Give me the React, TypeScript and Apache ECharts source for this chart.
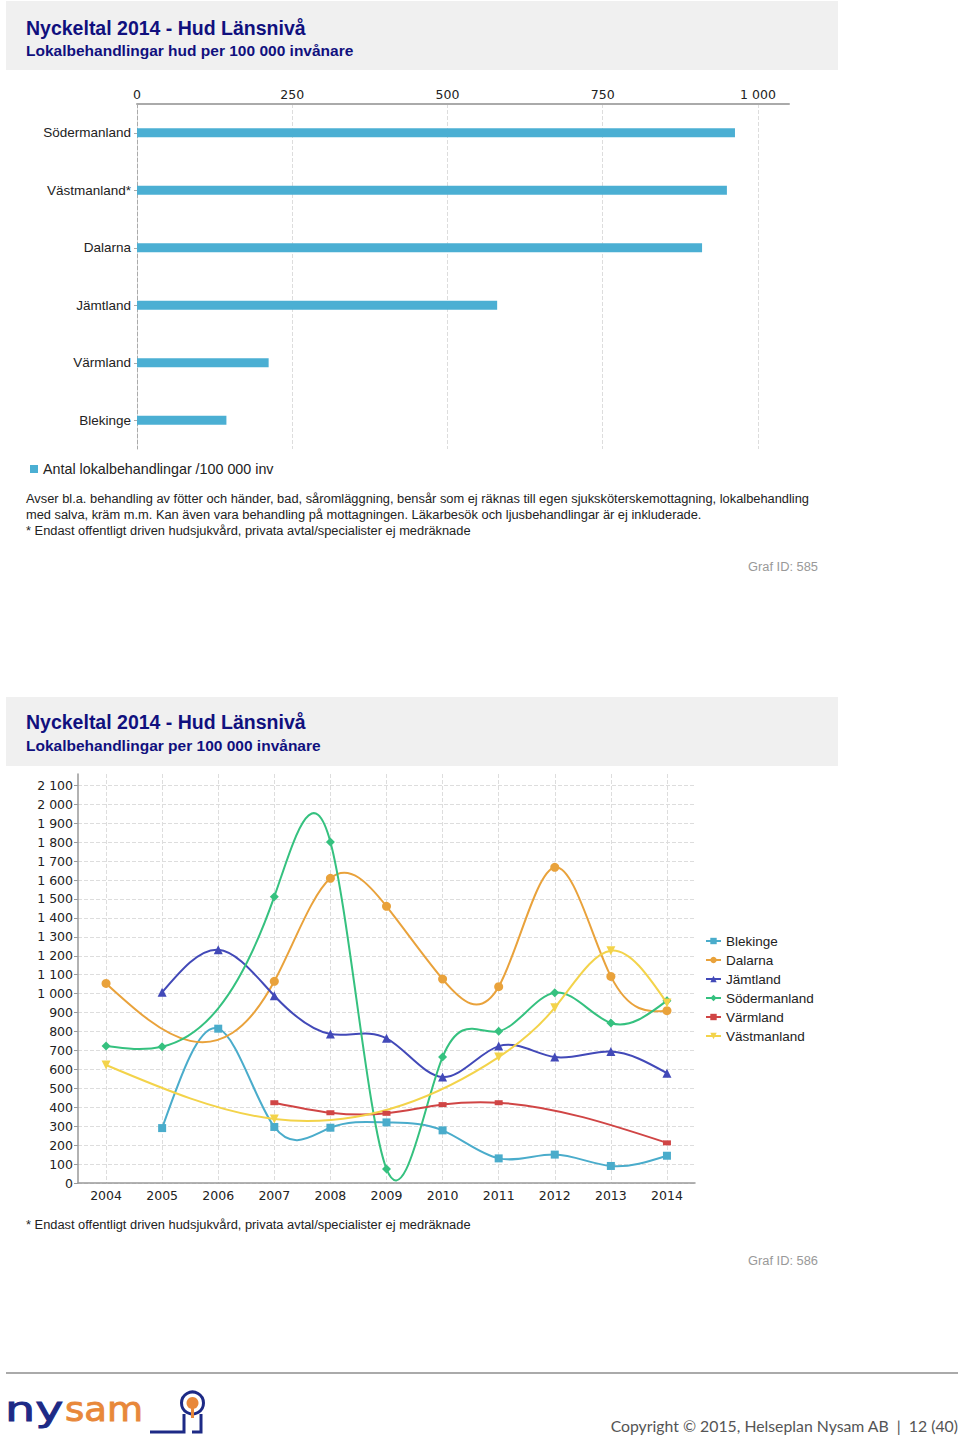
import React, { useEffect, useRef } from "react";
import * as echarts from "echarts";

const barCategories = ["Södermanland", "Västmanland*", "Dalarna", "Jämtland", "Värmland", "Blekinge"];
const barValues = [963, 950, 910, 580, 212, 144];
const barSeriesName = "Antal lokalbehandlingar /100 000 inv";

const years = ["2004", "2005", "2006", "2007", "2008", "2009", "2010", "2011", "2012", "2013", "2014"];
const blekinge = [null, 290, 815, 296, 292, 320, 278, 130, 150, 90, 144];
const dalarna = [1054, null, null, 1065, 1609, 1461, 1077, 1037, 1667, 1091, 910];
const jamtland = [null, 1007, 1232, 989, 787, 764, 560, 723, 665, 694, 580];
const sodermanland = [723, 720, null, 1512, 1801, 74, 665, 801, 1005, 845, 963];
const varmland = [null, null, null, 424, 371, 368, 414, 424, null, null, 212];
const vastmanland = [623, null, null, 338, null, null, null, 665, 926, 1227, 950];

const title1 = "Nyckeltal 2014 - Hud Länsnivå";
const subtitle1 = "Lokalbehandlingar hud per 100 000 invånare";
const subtitle2 = "Lokalbehandlingar per 100 000 invånare";
const notes1 = [
  "Avser bl.a. behandling av fötter och händer, bad, såromläggning, bensår som ej räknas till egen sjuksköterskemottagning, lokalbehandling",
  "med salva, kräm m.m. Kan även vara behandling på mottagningen. Läkarbesök och ljusbehandlingar är ej inkluderade.",
  "* Endast offentligt driven hudsjukvård, privata avtal/specialister ej medräknade",
];
const note2 = "* Endast offentligt driven hudsjukvård, privata avtal/specialister ej medräknade";
const copyright = "Copyright © 2015, Helseplan Nysam AB  |  12 (40)";

const fmt = (v: number) => String(v).replace(/\B(?=(\d{3})+(?!\d))/g, " ");

const SANS = "'Liberation Sans', Arial, sans-serif";
const NUM = "'DejaVu Sans', sans-serif";
const NAVY = "#10107e";

type Seg = { x0: number; y0: number; c1x: number; c1y: number; c2x: number; c2y: number; x1: number; y1: number };

// natural cubic spline through the non-null points, as cubic Bézier segments in data space
function splineSegments(data: (number | null)[]): Seg[] {
  const xs: number[] = [];
  const ys: number[] = [];
  data.forEach((v, i) => {
    if (v != null) {
      xs.push(i);
      ys.push(v);
    }
  });
  const n = xs.length;
  const M = new Array(n).fill(0);
  if (n > 2) {
    const a: number[] = [], b: number[] = [], c: number[] = [], d: number[] = [];
    for (let i = 1; i < n - 1; i++) {
      const h0 = xs[i] - xs[i - 1];
      const h1 = xs[i + 1] - xs[i];
      a.push(h0);
      b.push(2 * (h0 + h1));
      c.push(h1);
      d.push(6 * ((ys[i + 1] - ys[i]) / h1 - (ys[i] - ys[i - 1]) / h0));
    }
    const m = b.length;
    for (let i = 1; i < m; i++) {
      const w = a[i] / b[i - 1];
      b[i] -= w * c[i - 1];
      d[i] -= w * d[i - 1];
    }
    const sol = new Array(m);
    sol[m - 1] = d[m - 1] / b[m - 1];
    for (let i = m - 2; i >= 0; i--) sol[i] = (d[i] - c[i] * sol[i + 1]) / b[i];
    for (let i = 0; i < m; i++) M[i + 1] = sol[i];
  }
  const segs: Seg[] = [];
  for (let i = 0; i < n - 1; i++) {
    const h = xs[i + 1] - xs[i];
    const s = (ys[i + 1] - ys[i]) / h;
    const m0 = s - (h * (2 * M[i] + M[i + 1])) / 6;
    const m1 = s + (h * (M[i] + 2 * M[i + 1])) / 6;
    segs.push({
      x0: xs[i],
      y0: ys[i],
      c1x: xs[i] + h / 3,
      c1y: ys[i] + (h * m0) / 3,
      c2x: xs[i + 1] - h / 3,
      c2y: ys[i + 1] - (h * m1) / 3,
      x1: xs[i + 1],
      y1: ys[i + 1],
    });
  }
  return segs;
}

export default function App() {
  const ref = useRef<HTMLDivElement>(null);
  useEffect(() => {
    const chart = echarts.init(ref.current!, null, { renderer: "svg" });
    const lineSeries = [
      { name: "Blekinge", data: blekinge, color: "#4aaccb", symbol: "rect", symbolSize: 8, rot: 0 },
      { name: "Dalarna", data: dalarna, color: "#e9a23b", symbol: "circle", symbolSize: 9, rot: 0 },
      { name: "Jämtland", data: jamtland, color: "#4249b8", symbol: "triangle", symbolSize: 9, rot: 0 },
      { name: "Södermanland", data: sodermanland, color: "#35c17f", symbol: "diamond", symbolSize: 9, rot: 0 },
      { name: "Värmland", data: varmland, color: "#d04545", symbol: "rect", symbolSize: [8, 5], rot: 0 },
      { name: "Västmanland", data: vastmanland, color: "#f3d34a", symbol: "triangle", symbolSize: 9, rot: 180 },
    ];
    const titleText = (t: string, y: number, size: number) => ({
      type: "text",
      style: { text: t, x: 26, y, font: `bold ${size}px ${SANS}`, fill: NAVY, textVerticalAlign: "middle" },
    });
    const plain = (t: string, x: number, y: number, opts: any = {}) => ({
      type: "text",
      style: {
        text: t,
        x,
        y,
        font: opts.font || `12.85px ${SANS}`,
        fill: opts.fill || "#222",
        textAlign: opts.align || "left",
        textVerticalAlign: "middle",
      },
    });
    const curveSeries = lineSeries.map((s) => {
      const segs = splineSegments(s.data);
      return {
        name: s.name,
        type: "custom",
        coordinateSystem: "cartesian2d",
        xAxisIndex: 1,
        yAxisIndex: 1,
        z: 1,
        silent: true,
        clip: false,
        data: [[0, 0]],
        renderItem: (_params: any, api: any) => {
          const o = api.coord([0, 0]);
          const p1 = api.coord([1, 0]);
          const dx = p1[0] - o[0];
          const X = (x: number) => o[0] + x * dx;
          const Y = (v: number) => api.coord([0, v])[1];
          return {
            type: "group",
            children: segs.map((g) => ({
              type: "bezierCurve",
              shape: {
                x1: X(g.x0),
                y1: Y(g.y0),
                cpx1: X(g.c1x),
                cpy1: Y(g.c1y),
                cpx2: X(g.c2x),
                cpy2: Y(g.c2y),
                x2: X(g.x1),
                y2: Y(g.y1),
              },
              style: { stroke: s.color, lineWidth: 2, fill: null },
            })),
          };
        },
      };
    });
    const option: any = {
      animation: false,
      backgroundColor: "#fff",
      grid: [
        { left: 137, top: 104, width: 652, height: 345, containLabel: false },
        { left: 78, top: 774, width: 617, height: 409, containLabel: false },
      ],
      legend: [
        {
          data: [barSeriesName],
          left: 30,
          top: 462,
          padding: 0,
          icon: "rect",
          itemWidth: 8,
          itemHeight: 8,
          itemGap: 10,
          textStyle: { fontFamily: SANS, fontSize: 14.3, color: "#222" },
        },
        {
          data: lineSeries.map((s) => s.name),
          orient: "vertical",
          left: 705,
          top: 934,
          padding: 0,
          itemWidth: 15,
          itemHeight: 8,
          itemGap: 5,
          lineStyle: { opacity: 1, width: 2 },
          textStyle: { fontFamily: SANS, fontSize: 13.5, color: "#222", lineHeight: 14 },
        },
      ],
      xAxis: [
        {
          type: "value",
          gridIndex: 0,
          position: "top",
          min: 0,
          max: 1050,
          interval: 250,
          axisLine: { show: true, lineStyle: { color: "#aaa", width: 2 } },
          axisTick: { show: false },
          axisLabel: { fontFamily: NUM, fontSize: 12.5, color: "#222", margin: 3, showMaxLabel: false, formatter: fmt },
          splitLine: { show: true, showMaxLine: false, lineStyle: { color: "#ddd", type: "dashed" } },
        },
        {
          type: "category",
          gridIndex: 1,
          data: years,
          boundaryGap: true,
          axisLine: { show: true, lineStyle: { color: "#999", width: 1.5 } },
          axisTick: { show: false },
          axisLabel: { fontFamily: NUM, fontSize: 12.5, color: "#222", margin: 6 },
          splitLine: { show: true, alignWithLabel: true, lineStyle: { color: "#ddd", type: "dashed" } },
        },
      ],
      yAxis: [
        {
          type: "category",
          gridIndex: 0,
          data: barCategories,
          inverse: true,
          axisLine: { show: true, lineStyle: { color: "#aaa", type: "dashed" } },
          axisTick: { show: true, alignWithLabel: true, length: 3, lineStyle: { color: "#aaa" } },
          axisLabel: { fontFamily: SANS, fontSize: 13.5, color: "#222", margin: 6 },
          splitLine: { show: false },
        },
        {
          type: "value",
          gridIndex: 1,
          min: 0,
          max: 2160,
          interval: 100,
          axisLine: { show: true, lineStyle: { color: "#999", width: 1.5 } },
          axisTick: { show: true, length: 4, lineStyle: { color: "#999" } },
          axisLabel: { fontFamily: NUM, fontSize: 12.5, color: "#222", margin: 5, showMaxLabel: false, formatter: fmt },
          splitLine: { show: true, showMaxLine: false, lineStyle: { color: "#ddd", type: "dashed" } },
        },
      ],
      series: [
        {
          name: barSeriesName,
          type: "bar",
          xAxisIndex: 0,
          yAxisIndex: 0,
          data: barValues,
          barWidth: 9,
          itemStyle: { color: "#4bafd3" },
        },
        ...lineSeries.map((s) => ({
          name: s.name,
          type: "line",
          xAxisIndex: 1,
          yAxisIndex: 1,
          data: s.data,
          connectNulls: true,
          symbol: s.symbol,
          symbolSize: s.symbolSize,
          symbolRotate: s.rot,
          showSymbol: true,
          showAllSymbol: true,
          z: 3,
          color: s.color,
          itemStyle: { color: s.color },
          lineStyle: { color: s.color, width: 2, opacity: 0 },
        })),
        ...curveSeries,
      ],
      graphic: [
        { type: "rect", shape: { x: 6, y: 1, width: 832, height: 69 }, style: { fill: "#f0f0f0" } },
        titleText(title1, 28, 19.5),
        titleText(subtitle1, 50, 15.5),
        plain(notes1[0], 26, 498),
        plain(notes1[1], 26, 514),
        plain(notes1[2], 26, 530),
        plain("Graf ID: 585", 818, 566, { fill: "#999", align: "right" }),
        { type: "rect", shape: { x: 6, y: 697, width: 832, height: 69 }, style: { fill: "#f0f0f0" } },
        titleText(title1, 722, 19.5),
        titleText(subtitle2, 745, 15.5),
        plain(note2, 26, 1224),
        plain("Graf ID: 586", 818, 1260, { fill: "#999", align: "right" }),
        { type: "line", shape: { x1: 6, y1: 1373, x2: 958, y2: 1373 }, style: { stroke: "#aaa", lineWidth: 2 } },
        {
          type: "text",
          x: 5,
          y: 1409,
          scaleX: 1.4,
          style: {
            text: "ny",
            x: 0,
            y: 0,
            font: `34px ${NUM}`,
            fill: "#1d2a86",
            stroke: "#1d2a86",
            lineWidth: 0.9,
            textVerticalAlign: "middle",
          },
        },
        {
          type: "text",
          x: 65,
          y: 1409,
          scaleX: 1.09,
          style: {
            text: "sam",
            x: 0,
            y: 0,
            font: `34px ${NUM}`,
            fill: "#e8883a",
            stroke: "#e8883a",
            lineWidth: 0.9,
            textVerticalAlign: "middle",
          },
        },
        {
          type: "polyline",
          shape: { points: [[150, 1432], [184, 1432], [184, 1414]] },
          style: { stroke: "#1d2a86", lineWidth: 3, fill: null },
        },
        {
          type: "polyline",
          shape: { points: [[201, 1414], [201, 1432], [192, 1432]] },
          style: { stroke: "#1d2a86", lineWidth: 3, fill: null },
        },
        { type: "circle", shape: { cx: 192.5, cy: 1403, r: 11 }, style: { stroke: "#1d2a86", lineWidth: 3, fill: "#fff" } },
        { type: "circle", shape: { cx: 192.5, cy: 1403, r: 6 }, style: { fill: "#e8883a" } },
        { type: "rect", shape: { x: 191, y: 1405, width: 3, height: 13 }, style: { fill: "#e8883a" } },
        plain(copyright, 958, 1425, { fill: "#555", align: "right", font: `15.8px 'Lato', 'Open Sans', sans-serif` }),
      ],
    };
    chart.setOption(option);
    return () => chart.dispose();
  }, []);
  return <div ref={ref} style={{ position: "absolute", left: 0, top: 0, width: 960, height: 1442 }} />;
}
